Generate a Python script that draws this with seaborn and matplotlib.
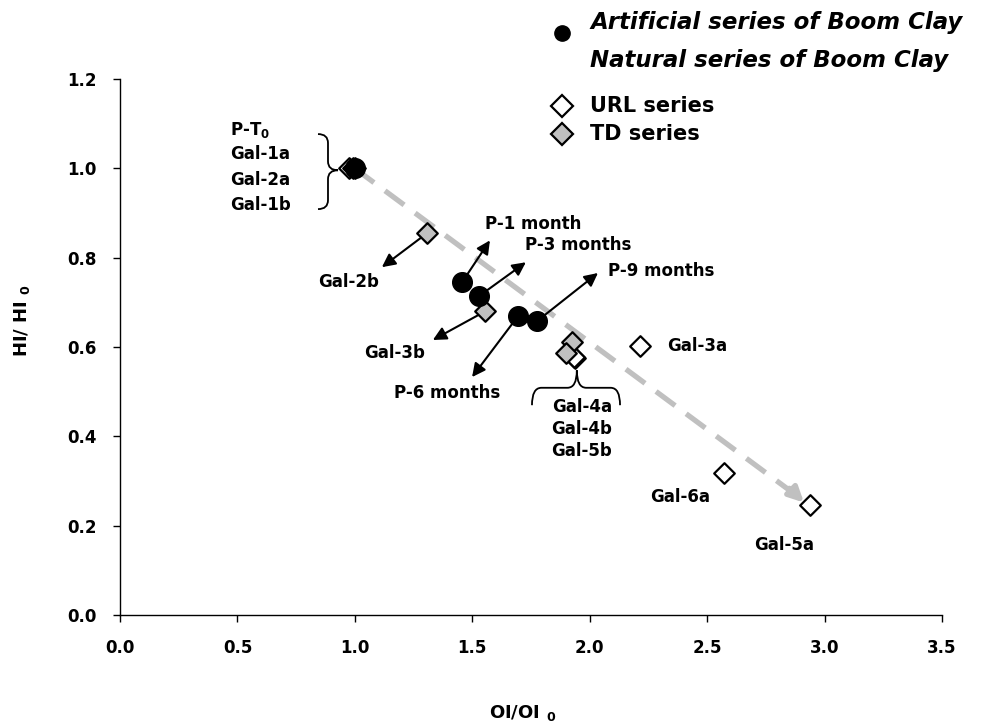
import matplotlib
matplotlib.use("Agg")
import matplotlib.pyplot as plt
from matplotlib.lines import Line2D
from matplotlib.path import Path
from matplotlib.patches import PathPatch
import seaborn as sns
import pandas as pd

# data
artificial_names = ["P-T0", "P-1 month", "P-3 months", "P-6 months", "P-9 months"]
artificial_x = [1.00, 1.456, 1.528, 1.694, 1.775]
artificial_y = [1.00, 0.745, 0.714, 0.669, 0.658]

url_names = ["Gal-1a", "Gal-1b", "Gal-4b", "Gal-5b", "Gal-3a", "Gal-6a", "Gal-5a"]
url_x = [0.975, 0.99, 1.937, 1.935, 2.214, 2.571, 2.937]
url_y = [1.00, 1.00, 0.575, 0.578, 0.602, 0.318, 0.246]

td_names = ["Gal-2a", "Gal-2b", "Gal-3b", "Gal-4a", "Gal-4b"]
td_x = [1.00, 1.307, 1.554, 1.924, 1.899]
td_y = [1.00, 0.855, 0.680, 0.611, 0.587]

trend_x = [1.0, 2.88]
trend_y = [1.0, 0.268]
trend_tip = (2.912, 0.252)

sns.set_style("ticks")
plt.rcParams["font.family"] = ["DejaVu Sans"]
plt.rcParams["font.weight"] = "bold"
plt.rcParams["axes.labelweight"] = "bold"
for k in ["text.color", "axes.labelcolor", "xtick.color", "ytick.color", "axes.edgecolor"]:
    plt.rcParams[k] = "black"
plt.rcParams["mathtext.fontset"] = "custom"
plt.rcParams["mathtext.rm"] = "DejaVu Sans:bold"
plt.rcParams["mathtext.it"] = "DejaVu Sans:bold"
plt.rcParams["mathtext.bf"] = "DejaVu Sans:bold"

fig = plt.figure(figsize=(10.01, 7.22), dpi=100)
ax = fig.add_axes([0.1199, 0.148, 0.8212, 0.7424])

df_url = pd.DataFrame({"OI": url_x, "HI": url_y})
df_td = pd.DataFrame({"OI": td_x, "HI": td_y})
df_art = pd.DataFrame({"OI": artificial_x, "HI": artificial_y})

# trend line (dashed grey arrow)
ax.plot(trend_x, trend_y, color="#c0c0c0", lw=3.8, dashes=(4.5, 2.6), zorder=1)
ax.annotate("", xy=trend_tip, xytext=(trend_x[-1] - 0.03, trend_y[-1] + 0.016),
            arrowprops=dict(arrowstyle="-|>", color="#c0c0c0", lw=3.8, mutation_scale=22,
                            shrinkA=0, shrinkB=0), zorder=1)

sns.scatterplot(data=df_url, x="OI", y="HI", marker="D", s=110, color="white",
                edgecolor="black", linewidth=1.6, zorder=4, ax=ax, legend=False)
sns.scatterplot(data=df_td, x="OI", y="HI", marker="D", s=110, color="#c0c0c0",
                edgecolor="black", linewidth=1.6, zorder=5, ax=ax, legend=False)
sns.scatterplot(data=df_art, x="OI", y="HI", marker="o", s=200, color="black",
                edgecolor="black", linewidth=1, zorder=6, ax=ax, legend=False)

arrow_kw = dict(arrowstyle="-|>", color="black", lw=1.5, mutation_scale=20, shrinkA=0, shrinkB=0)
fs = 12

# arrows + labels for artificial series
ax.annotate("", xy=(1.575, 0.839), xytext=(artificial_x[1], artificial_y[1]), arrowprops=arrow_kw, zorder=3)
ax.text(1.554, 0.875, "P-1 month", fontsize=fs, ha="left", va="center")
ax.annotate("", xy=(1.728, 0.790), xytext=(artificial_x[2], artificial_y[2]), arrowprops=arrow_kw, zorder=3)
ax.text(1.724, 0.828, "P-3 months", fontsize=fs, ha="left", va="center")
ax.annotate("", xy=(2.035, 0.766), xytext=(artificial_x[4], artificial_y[4]), arrowprops=arrow_kw, zorder=3)
ax.text(2.077, 0.770, "P-9 months", fontsize=fs, ha="left", va="center")
ax.annotate("", xy=(1.499, 0.533), xytext=(artificial_x[3], artificial_y[3]), arrowprops=arrow_kw, zorder=3)
ax.text(1.392, 0.497, "P-6 months", fontsize=fs, ha="center", va="center")

# arrows + labels for TD series
ax.annotate("", xy=(1.115, 0.779), xytext=(td_x[1], td_y[1]), arrowprops=arrow_kw, zorder=3)
ax.text(0.971, 0.745, "Gal-2b", fontsize=fs, ha="center", va="center")
ax.annotate("", xy=(1.332, 0.616), xytext=(td_x[2], td_y[2]), arrowprops=arrow_kw, zorder=3)
ax.text(1.171, 0.587, "Gal-3b", fontsize=fs, ha="center", va="center")

# URL labels
ax.text(2.329, 0.602, "Gal-3a", fontsize=fs, ha="left", va="center")
ax.text(2.384, 0.264, "Gal-6a", fontsize=fs, ha="center", va="center")
ax.text(2.827, 0.157, "Gal-5a", fontsize=fs, ha="center", va="center")

# stacked labels around the origin cluster
for lab, yy in zip(["P-T$_0$", "Gal-1a", "Gal-2a", "Gal-1b"], [1.086, 1.032, 0.974, 0.918]):
    ax.text(0.468, yy, lab, fontsize=fs, ha="left", va="center")
for lab, yy in zip(["Gal-4a", "Gal-4b", "Gal-5b"], [0.466, 0.417, 0.367]):
    ax.text(1.967, yy, lab, fontsize=fs, ha="center", va="center")


def brace_v(x0, ytop, ybot, xtip, ytip, c):
    xm = (x0 + xtip) / 2
    verts = [(x0, ytop), (xm, ytop), (xm, ytop - c), (xm, ytip + c), (xm, ytip), (xtip, ytip),
             (xm, ytip), (xm, ytip - c), (xm, ybot + c), (xm, ybot), (x0, ybot)]
    codes = [Path.MOVETO, Path.CURVE3, Path.CURVE3, Path.LINETO, Path.CURVE3, Path.CURVE3,
             Path.CURVE3, Path.CURVE3, Path.LINETO, Path.CURVE3, Path.CURVE3]
    return PathPatch(Path(verts, codes), fill=False, lw=1.3, color="black", zorder=3)


def brace_h(xl, xr, y0, xtip, ytip, c):
    ym = (y0 + ytip) / 2
    verts = [(xl, y0), (xl, ym), (xl + c, ym), (xtip - c, ym), (xtip, ym), (xtip, ytip),
             (xtip, ym), (xtip + c, ym), (xr - c, ym), (xr, ym), (xr, y0)]
    codes = [Path.MOVETO, Path.CURVE3, Path.CURVE3, Path.LINETO, Path.CURVE3, Path.CURVE3,
             Path.CURVE3, Path.CURVE3, Path.LINETO, Path.CURVE3, Path.CURVE3]
    return PathPatch(Path(verts, codes), fill=False, lw=1.3, color="black", zorder=3)


ax.add_patch(brace_v(0.843, 1.077, 0.909, 0.928, 0.996, 0.02))
ax.add_patch(brace_h(1.754, 2.129, 0.470, 1.945, 0.548, 0.04))

ax.set_xlim(0, 3.5)
ax.set_ylim(0, 1.2)
ax.set_xticks([0, 0.5, 1.0, 1.5, 2.0, 2.5, 3.0, 3.5])
ax.set_yticks([0, 0.2, 0.4, 0.6, 0.8, 1.0, 1.2])
ax.xaxis.set_major_formatter(matplotlib.ticker.FormatStrFormatter("%.1f"))
ax.yaxis.set_major_formatter(matplotlib.ticker.FormatStrFormatter("%.1f"))
ax.tick_params(axis="both", labelsize=12, length=5, width=1, color="black", direction="out")
ax.tick_params(axis="x", pad=12)
ax.tick_params(axis="y", pad=12)
for sp in ["left", "bottom"]:
    ax.spines[sp].set_color("black")
    ax.spines[sp].set_linewidth(1)
sns.despine(ax=ax)

ax.set_xlabel("OI/OI $_0$", fontsize=13)
ax.set_ylabel("HI/ HI $_0$", fontsize=13)
ax.xaxis.set_label_coords(0.49, -0.163)
ax.yaxis.set_label_coords(-0.107, 0.55)

# legend block, laid out row by row like the reference
H = 722.0
leg_rows = [
    ("Artificial series of Boom Clay", "italic", 29, dict(marker="o", color="black", markersize=11)),
    ("Natural series of Boom Clay", "italic", 67, None),
    ("URL series", "normal", 112, dict(marker="D", markerfacecolor="white", markeredgecolor="black",
                                       markeredgewidth=1.6, markersize=11)),
    ("TD series", "normal", 140, dict(marker="D", markerfacecolor="#c0c0c0", markeredgecolor="black",
                                      markeredgewidth=1.6, markersize=11)),
]
for label, style, base, mk in leg_rows:
    size = 16.5 if style == "italic" else 15
    fig.text(590 / 1001, 1 - base / H, label, fontsize=size, fontstyle=style,
             ha="left", va="baseline")
    if mk is not None:
        yc = base - 6 if mk["marker"] == "D" else base + 4
        fig.add_artist(Line2D([562 / 1001], [1 - yc / H], linestyle="", transform=fig.transFigure, **mk))

fig.savefig("out.png", dpi=100)
